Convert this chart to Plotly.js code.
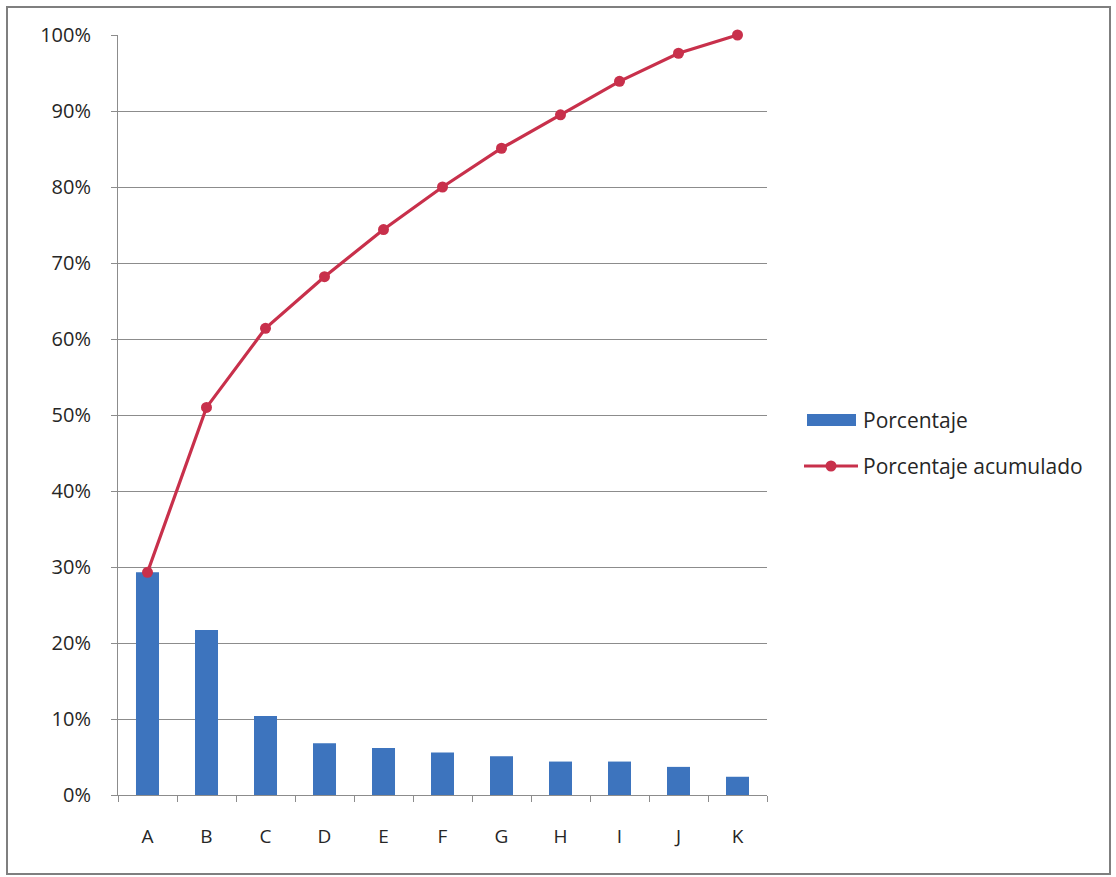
<!DOCTYPE html>
<html>
<head>
<meta charset="utf-8">
<script src="https://cdn.plot.ly/plotly-3.0.1.min.js"></script>
<style>
  html, body { margin: 0; padding: 0; background: #ffffff; }
  #wrap { position: relative; width: 1116px; height: 877px; }
  #chart { position: absolute; left: 0; top: 0; width: 1116px; height: 877px; }
  #frame { position: absolute; left: 6px; top: 6px; width: 1101px; height: 865px;
           border: 2px solid #7f7f7f; pointer-events: none; }
</style>
</head>
<body>
<div id="wrap">
  <div id="chart"></div>
  <div id="frame"></div>
</div>
<script>
// Pareto data: share of each cause and running total (%)
const categorias = ['A', 'B', 'C', 'D', 'E', 'F', 'G', 'H', 'I', 'J', 'K'];
const porcentaje = [29.3, 21.7, 10.4, 6.8, 6.2, 5.6, 5.1, 4.4, 4.4, 3.7, 2.4];
const acumulado  = [29.3, 51.0, 61.4, 68.2, 74.4, 80.0, 85.1, 89.5, 93.9, 97.6, 100.0];
const yTicks     = [0, 10, 20, 30, 40, 50, 60, 70, 80, 90, 100];
const nombres    = ['Porcentaje', 'Porcentaje acumulado'];

const FONT = '"Open Sans", Lato, sans-serif';
const TXT = '#262626';
const AZUL = '#3d74be';
const ROJO = '#c8304b';

// Plot area in pixels (used to place the hand-built legend)
const W = 1116, H = 877;
const M = { l: 118, r: 349, t: 35, b: 82 };
const plotW = W - M.l - M.r, plotH = H - M.t - M.b;
const px = x => (x - M.l) / plotW;
const py = y => (H - M.b - y) / plotH;

const traces = [
  {
    type: 'bar',
    name: nombres[0],
    x: categorias,
    y: porcentaje,
    marker: { color: AZUL, line: { width: 0 } },
    hoverinfo: 'x+y'
  },
  {
    type: 'scatter',
    mode: 'lines+markers',
    name: nombres[1],
    x: categorias,
    y: acumulado,
    cliponaxis: false,
    line: { color: ROJO, width: 3.2 },
    marker: { color: ROJO, size: 11, symbol: 'circle' },
    hoverinfo: 'x+y'
  }
];

// Legend: bar swatch, line-with-marker swatch and labels
const legendShapes = [
  { type: 'rect', xref: 'paper', yref: 'paper',
    x0: px(807), x1: px(856), y0: py(426), y1: py(414),
    fillcolor: AZUL, line: { width: 0 } },
  { type: 'line', xref: 'paper', yref: 'paper',
    x0: px(804), x1: px(858), y0: py(466), y1: py(466),
    line: { color: ROJO, width: 3 } },
  { type: 'circle', xref: 'paper', yref: 'paper',
    x0: px(825.5), x1: px(836.5), y0: py(471.5), y1: py(460.5),
    fillcolor: ROJO, line: { color: ROJO, width: 0 } }
];
const legendLabels = [
  { text: nombres[0], x: px(861), y: py(420) },
  { text: nombres[1], x: px(861), y: py(466) }
].map(a => Object.assign(a, {
  xref: 'paper', yref: 'paper', xanchor: 'left', yanchor: 'middle',
  showarrow: false, font: { family: FONT, size: 21, color: TXT }
}));

const layout = {
  width: W,
  height: H,
  margin: { l: M.l, r: M.r, t: M.t, b: M.b, pad: 0 },
  paper_bgcolor: '#ffffff',
  plot_bgcolor: '#ffffff',
  font: { family: FONT, size: 20, color: TXT },
  bargap: 0.61,
  showlegend: false,
  shapes: legendShapes,
  annotations: legendLabels,
  xaxis: {
    type: 'category',
    categoryorder: 'array',
    categoryarray: categorias,
    range: [-0.5, categorias.length - 0.5],
    showline: true,
    linecolor: '#8c8c8c',
    linewidth: 1,
    ticks: 'outside',
    tickson: 'boundaries',
    ticklen: 6,
    tickcolor: '#8c8c8c',
    showgrid: false,
    zeroline: false,
    ticklabelstandoff: 24,
    tickfont: { family: FONT, size: 19, color: TXT }
  },
  yaxis: {
    range: [0, 100],
    tickvals: yTicks,
    ticktext: yTicks.map(v => v + '%'),
    showline: true,
    linecolor: '#8c8c8c',
    linewidth: 1,
    ticks: 'outside',
    ticklen: 6,
    tickcolor: '#8c8c8c',
    showgrid: true,
    gridcolor: '#8c8c8c',
    gridwidth: 1,
    zeroline: false,
    ticklabelstandoff: 16,
    tickfont: { family: FONT, size: 20, color: TXT }
  }
};

Plotly.newPlot('chart', traces, layout, { displayModeBar: false, staticPlot: true });
</script>
</body>
</html>
